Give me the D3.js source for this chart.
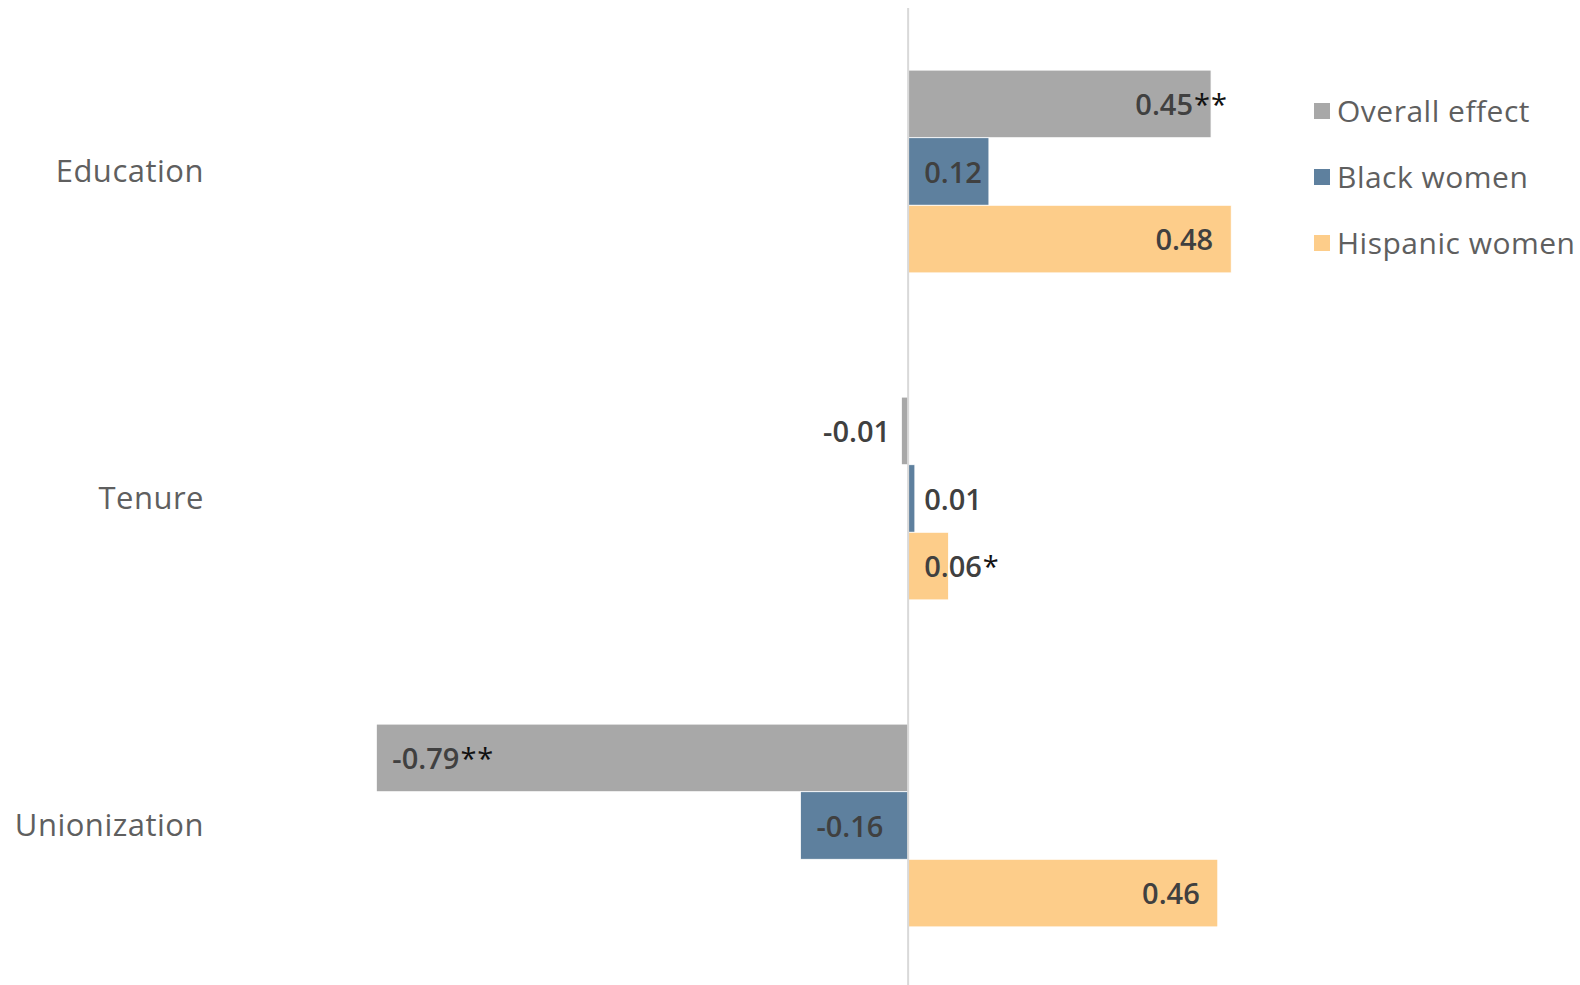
<!DOCTYPE html>
<html>
<head>
<meta charset="utf-8">
<script src="https://cdn.jsdelivr.net/npm/d3@7"></script>
<style>
  body { margin: 0; background: #fff; }
  svg { display: block; }
</style>
</head>
<body>
<svg id="chart"></svg>
<script>
const categories = ["Education", "Tenure", "Unionization"];
const seriesNames = ["Overall effect", "Black women", "Hispanic women"];
const overallValues = [0.45, -0.01, -0.79];
const blackValues = [0.12, 0.01, -0.16];
const hispanicValues = [0.48, 0.06, 0.46];
const overallSig = ["**", "", "**"];
const blackSig = ["", "", ""];
const hispanicSig = ["", "*", ""];
const colors = ["#a8a8a8", "#5e809e", "#fdcd8a"];

/**
 * Builds the flat list of bars from the series arrays.
 */
function buildBars() {
  var values = [overallValues, blackValues, hispanicValues];
  var sigs = [overallSig, blackSig, hispanicSig];
  var bars = [];
  categories.forEach(function(cat, i) {
    seriesNames.forEach(function(s, j) {
      bars.push({ category: cat, series: s, value: values[j][i], sig: sigs[j][i], color: colors[j] });
    });
  });
  return bars;
}

function drawChart() {
  var width = 1580, height = 985;
  var svg = d3.select("#chart").attr("width", width).attr("height", height);

  var xScale = d3.scaleLinear().domain([-1, 0.6]).range([235, 1312]);
  var yGroup = d3.scaleBand().domain(categories).range([8, 989])
    .paddingInner(0.38).paddingOuter(0.19);
  var ySeries = d3.scaleBand().domain(seriesNames).range([0, yGroup.bandwidth()]);

  var bars = buildBars();

  svg.selectAll(".bar")
    .data(bars)
    .enter().append("rect")
    .attr("class", "bar")
    .attr("x", function(d) { return Math.min(xScale(0), xScale(d.value)); })
    .attr("y", function(d) { return yGroup(d.category) + ySeries(d.series); })
    .attr("width", function(d) { return Math.abs(xScale(d.value) - xScale(0)); })
    .attr("height", ySeries.bandwidth())
    .attr("fill", function(d) { return d.color; })
    .attr("stroke", "#ffffff")
    .attr("stroke-width", 0.8);

  // zero line
  svg.append("line")
    .attr("x1", xScale(0)).attr("x2", xScale(0))
    .attr("y1", 8).attr("y2", height)
    .attr("stroke", "#d9d9d9")
    .attr("stroke-width", 2);

  // value labels
  var labels = svg.selectAll(".value-label")
    .data(bars)
    .enter().append("text")
    .attr("class", "value-label")
    .attr("y", function(d) { return yGroup(d.category) + ySeries(d.series) + ySeries.bandwidth() / 2; })
    .attr("dy", "0.38em")
    .style("font-family", "'Open Sans', sans-serif")
    .style("font-size", "29px")
    .style("font-weight", 600)
    .attr("fill", "#404040");

  labels.append("tspan").attr("class", "num")
    .text(function(d) { return d.value.toFixed(2); });
  labels.append("tspan")
    .attr("fill", "#111")
    .style("font-weight", 400)
    .style("letter-spacing", "1px")
    .attr("dx", 1)
    .text(function(d) { return d.sig; });

  labels.each(function(d) {
    var w = d3.select(this).select(".num").node().getComputedTextLength();
    var x0 = xScale(0), xv = xScale(d.value);
    var start;
    if (d.value >= 0) {
      start = Math.max(x0 + 16, xv - 18 - w);
    } else {
      start = Math.min(x0 - 18 - w, xv + 16);
    }
    d3.select(this).attr("x", start);
  });

  // category labels
  svg.selectAll(".cat-label")
    .data(categories)
    .enter().append("text")
    .attr("class", "cat-label")
    .attr("x", 204)
    .attr("y", function(d) { return yGroup(d) + yGroup.bandwidth() / 2; })
    .attr("dy", "0.35em")
    .style("text-anchor", "end")
    .style("font-family", "'Open Sans', sans-serif")
    .style("font-size", "31px")
    .style("letter-spacing", "0.5px")
    .attr("fill", "#5f5f5f")
    .text(function(d) { return d; });

  // legend
  var legend = svg.selectAll(".legend-item")
    .data(seriesNames)
    .enter().append("g")
    .attr("class", "legend-item")
    .attr("transform", function(d, i) { return "translate(1314," + (111 + i * 66) + ")"; });

  legend.append("rect")
    .attr("x", 0).attr("y", -8)
    .attr("width", 16).attr("height", 16)
    .attr("fill", function(d, i) { return colors[i]; });

  legend.append("text")
    .attr("x", 23)
    .attr("dy", "0.35em")
    .style("font-family", "'Open Sans', sans-serif")
    .style("font-size", "30px")
    .style("letter-spacing", "0.5px")
    .attr("fill", "#5f5f5f")
    .text(function(d) { return d; });
}

drawChart();
</script>
</body>
</html>
